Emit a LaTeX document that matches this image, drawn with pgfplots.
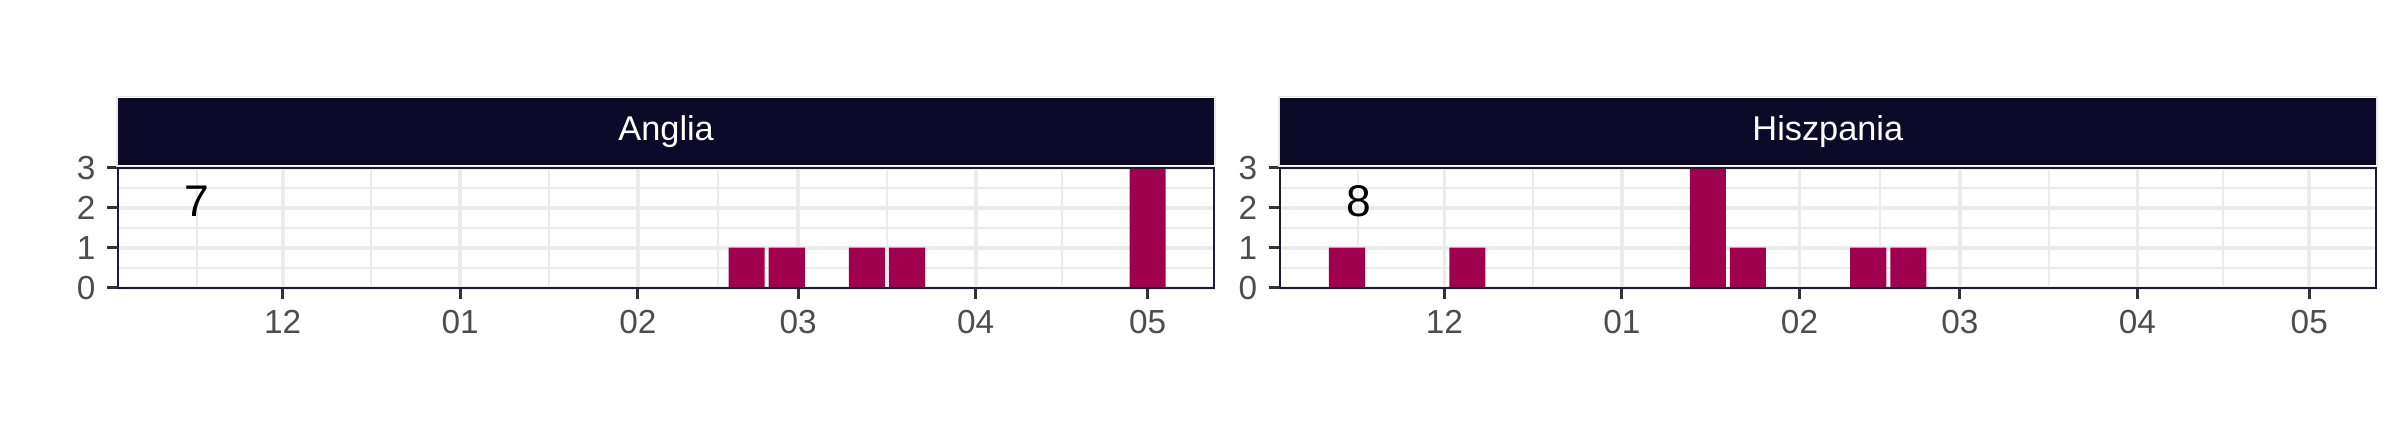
\documentclass[border=0pt]{standalone}
\usepackage{pgfplots}
\pgfplotsset{compat=1.18}
\usepackage{fontspec}
\setmainfont{Liberation Sans}
\definecolor{stripcol}{HTML}{0D0A29}
\definecolor{barcol}{HTML}{A0004E}
\definecolor{framecol}{HTML}{1E1B3A}
\definecolor{gridcol}{HTML}{EBEBEB}
\definecolor{ticklab}{HTML}{4D4D4D}
\definecolor{tickcol}{HTML}{333333}

\pgfplotsset{panel/.style={
  scale only axis, width=328.7pt, height=36pt,
  xmin=-28.7, xmax=162.6, ymin=0, ymax=3,
  xtick={0,31,62,90,121,151}, xticklabels={},
  minor xtick={-15,15.5,46.5,76,105.5,136},
  ytick={0,1,2,3}, minor ytick={0.5,1.5,2.5},
  grid=both,
  major grid style={gridcol, line width=1.1pt},
  minor grid style={gridcol, line width=0.6pt},
  tick align=outside, major tick length=3.3pt, minor tick length=0pt,
  major tick style={tickcol, line width=0.9pt},
  xtick pos=bottom, ytick pos=left,
  axis line style={framecol, line width=0.5pt},
  ticklabel style={font=\fontsize{10}{12}\selectfont, text=ticklab},
  /pgf/number format/assume math mode=true,
  clip=false,
}}

\newcommand{\xlab}[2]{\node[anchor=north, inner sep=0pt, font=\fontsize{10}{12}\selectfont, text=ticklab] at ([yshift=-6.7pt]axis cs:#1,0) {#2};}
\newcommand{\xlabels}{\xlab{0}{12}\xlab{31}{01}\xlab{62}{02}\xlab{90}{03}\xlab{121}{04}\xlab{151}{05}}

\newcommand{\strip}[1]{%
  \draw[black!9, line width=0.5pt] ([xshift=-0.4pt,yshift=0.4pt]rel axis cs:0,1) rectangle ([xshift=0.4pt,yshift=21.4pt]rel axis cs:1,1);
  \fill[stripcol] ([yshift=0.8pt]rel axis cs:0,1) rectangle ([yshift=20.9pt]rel axis cs:1,1);
  \node[text=white, font=\fontsize{10.3}{12}\selectfont] at ([yshift=10.86pt]rel axis cs:0.5,1) {#1};
  \draw[framecol, line width=0.5pt] (rel axis cs:0,0) rectangle (rel axis cs:1,1);
}

\begin{document}
\begin{tikzpicture}
\useasboundingbox (0,0) rectangle (720pt,-126pt);

\begin{axis}[panel, at={(35.49pt,-86.31pt)}, anchor=south west]
\addplot[ybar, bar width=6.3, fill=barcol, draw=none] coordinates {(81,1) (88,1) (102,1) (109,1) (151,3)};
\node[font=\fontsize{13.3}{15}\selectfont, text=black] at (axis cs:-15,2.17) {7};
\strip{Anglia}
\xlabels
\end{axis}

\begin{axis}[panel, at={(384pt,-86.31pt)}, anchor=south west]
\addplot[ybar, bar width=6.3, fill=barcol, draw=none] coordinates {(-17,1) (4,1) (46,3) (53,1) (74,1) (81,1)};
\node[font=\fontsize{13.3}{15}\selectfont, text=black] at (axis cs:-15,2.17) {8};
\strip{Hiszpania}
\xlabels
\end{axis}
\end{tikzpicture}
\end{document}
